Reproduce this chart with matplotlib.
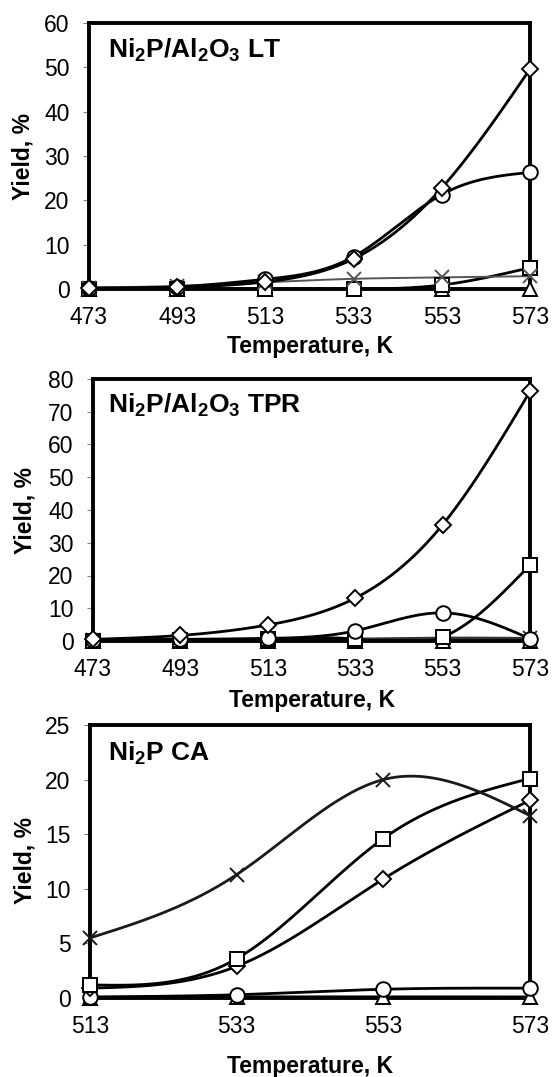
import numpy as np
import matplotlib
matplotlib.use('Agg')
import matplotlib.pyplot as plt

plt.rcParams['font.family'] = ['Liberation Sans', 'DejaVu Sans']
plt.rcParams['mathtext.fontset'] = 'custom'
plt.rcParams['mathtext.rm'] = 'Liberation Sans:bold'
plt.rcParams['mathtext.it'] = 'Liberation Sans:bold'
plt.rcParams['mathtext.bf'] = 'Liberation Sans:bold'

# ---------------- data ----------------
temps_lt = [473, 493, 513, 533, 553, 573]
lt_diamond = [0.2, 0.4, 1.6, 6.8, 22.8, 49.6]
lt_circle = [0.2, 0.5, 2.2, 7.3, 21.3, 26.3]
lt_cross = [0.3, 0.7, 1.5, 2.3, 2.6, 2.9]
lt_square = [0.0, 0.0, 0.0, 0.0, 0.9, 4.8]
lt_triangle = [0.0, 0.0, 0.0, 0.0, 0.0, 0.0]

temps_tpr = [473, 493, 513, 533, 553, 573]
tpr_diamond = [0.5, 1.7, 4.9, 13.1, 35.5, 76.2]
tpr_circle = [0.3, 0.5, 0.8, 3.1, 8.6, 0.7]
tpr_square = [0.1, 0.3, 0.5, 0.6, 1.2, 23.2]
tpr_cross = [0.2, 0.4, 0.5, 0.6, 0.9, 0.8]
tpr_triangle = [0.0, 0.0, 0.0, 0.0, 0.0, 0.0]

temps_ca = [513, 533, 553, 573]
ca_cross = [5.5, 11.3, 20.0, 16.7]
ca_square = [1.2, 3.6, 14.6, 20.1]
ca_diamond = [0.9, 2.9, 10.9, 18.1]
ca_circle = [0.1, 0.3, 0.8, 0.9]
ca_triangle = [0.0, 0.1, 0.1, 0.1]

titles = ['Ni$_2$P/Al$_2$O$_3$ LT', 'Ni$_2$P/Al$_2$O$_3$ TPR', 'Ni$_2$P CA']
ylims = [(0, 60, 10), (0, 80, 10), (0, 25, 5)]

W, H = 555, 1077
fig = plt.figure(figsize=(W / 100, H / 100), dpi=100)


def frac_box(l, r, t, b):
    return [l / W, 1 - b / H, (r - l) / W, (b - t) / H]


def px(x, y):
    return x / W, 1 - y / H


def natural_spline(x, y, n=60):
    x = np.asarray(x, float)
    y = np.asarray(y, float)
    m = len(x)
    h = np.diff(x)
    A = np.zeros((m, m))
    b = np.zeros(m)
    A[0, 0] = 1
    A[-1, -1] = 1
    for i in range(1, m - 1):
        A[i, i - 1] = h[i - 1]
        A[i, i] = 2 * (h[i - 1] + h[i])
        A[i, i + 1] = h[i]
        b[i] = 6 * ((y[i + 1] - y[i]) / h[i] - (y[i] - y[i - 1]) / h[i - 1])
    M = np.linalg.solve(A, b)
    xs, ys = [], []
    for i in range(m - 1):
        t = np.linspace(0, 1, n, endpoint=(i == m - 2))
        a = 1 - t
        xs.append(x[i] + t * h[i])
        ys.append(a * y[i] + t * y[i + 1]
                  + (h[i] ** 2 / 6) * ((a ** 3 - a) * M[i] + (t ** 3 - t) * M[i + 1]))
    return np.concatenate(xs), np.concatenate(ys)


marker_style = {
    'diamond': dict(marker='D', ms=8),
    'circle': dict(marker='o', ms=10.5),
    'square': dict(marker='s', ms=9.5),
    'triangle': dict(marker='^', ms=10),
    'cross': dict(marker='x', ms=10),
}

panels = [
    dict(box=frac_box(89, 530, 23, 289), x=temps_lt,
         series=[('triangle', lt_triangle, 'black'), ('square', lt_square, 'black'),
                 ('cross', lt_cross, '#555555'), ('circle', lt_circle, 'black'),
                 ('diamond', lt_diamond, 'black')],
         ylab=(23, 156), xlab=(310, 347), title=(108, 50)),
    dict(box=frac_box(93, 530, 379, 641), x=temps_tpr,
         series=[('triangle', tpr_triangle, 'black'), ('cross', tpr_cross, '#333333'),
                 ('square', tpr_square, 'black'), ('circle', tpr_circle, 'black'),
                 ('diamond', tpr_diamond, 'black')],
         ylab=(25, 510), xlab=(312, 700), title=(108, 405)),
    dict(box=frac_box(90, 530, 725, 998), x=temps_ca,
         series=[('triangle', ca_triangle, 'black'), ('circle', ca_circle, 'black'),
                 ('diamond', ca_diamond, 'black'), ('square', ca_square, 'black'),
                 ('cross', ca_cross, '#1a1a1a')],
         ylab=(25, 861), xlab=(310, 1067), title=(108, 753)),
]

for k, p in enumerate(panels):
    ax = fig.add_axes(p['box'])
    x = p['x']
    for j, (name, vals, col) in enumerate(p['series']):
        sx, sy = natural_spline(x, vals)
        lw = 1.4 if (name == 'cross' and k == 0) else 2.0
        ax.plot(sx, sy, color=col, lw=lw, zorder=2 + j * 0.1, solid_capstyle='butt')
    for j, (name, vals, col) in enumerate(p['series']):
        st = marker_style[name]
        ax.plot(x, vals, ls='none', marker=st['marker'], ms=st['ms'],
                mfc='white' if name != 'cross' else col, mec=col if name == 'cross' else 'black',
                mew=1.4, zorder=4 + j * 0.1, clip_on=False)
    lo, hi, step = ylims[k]
    ax.set_ylim(lo, hi)
    ax.set_yticks(np.arange(lo, hi + step / 2, step))
    ax.set_xlim(x[0], x[-1])
    ax.set_xticks(x)
    ax.set_xticklabels([str(v) for v in x])
    for s in ax.spines.values():
        s.set_linewidth(2.8)
        s.set_color('black')
        s.set_zorder(3)
    ax.tick_params(axis='y', direction='out', length=4, width=0.8, color='#7f7f7f',
                   pad=10, labelsize=16.5)
    ax.tick_params(axis='x', length=0, pad=12, labelsize=16.5)
    fig.text(*px(*p['ylab']), 'Yield, %', rotation=90, ha='center', va='center',
             fontsize=16.5, fontweight='bold')
    fig.text(*px(*p['xlab']), 'Temperature, K', ha='center', va='center',
             fontsize=16.5, fontweight='bold')
    fig.text(*px(*p['title']), titles[k], ha='left', va='center',
             fontsize=19, fontweight='bold')

fig.savefig('out.png', dpi=100)
